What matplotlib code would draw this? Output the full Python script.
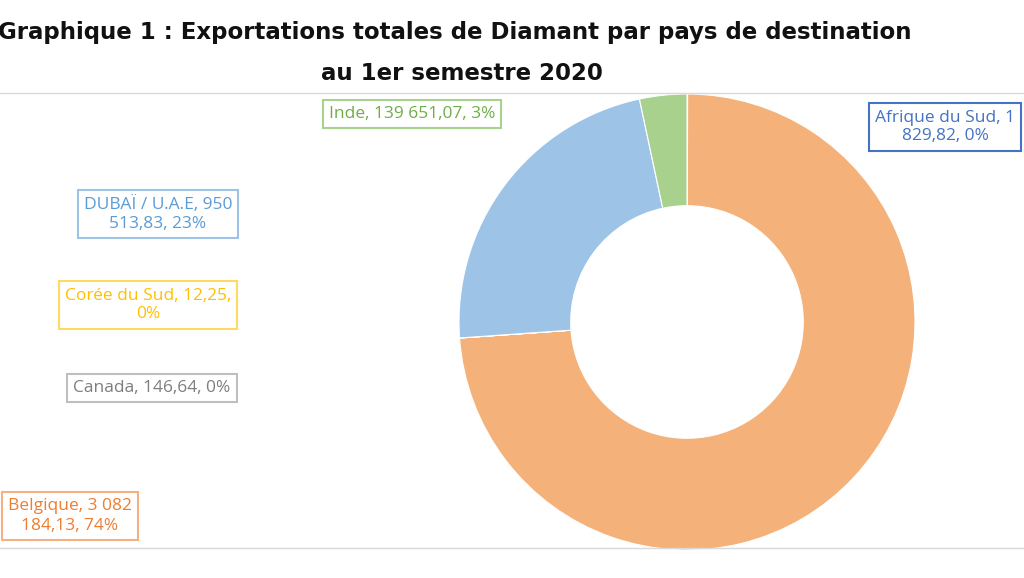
import matplotlib
matplotlib.use("Agg")
import matplotlib.pyplot as plt

countries = ["Afrique du Sud", "Belgique", "Canada", "Corée du Sud", "DUBAÏ / U.A.E", "Inde"]
values = [1829.82, 3082184.13, 146.64, 12.25, 950513.83, 139651.07]
label_texts = ["Afrique du Sud, 1\n829,82, 0%", "Belgique, 3 082\n184,13, 74%", "Canada, 146,64, 0%",
               "Corée du Sud, 12,25,\n0%", "DUBAÏ / U.A.E, 950\n513,83, 23%", "Inde, 139 651,07, 3%"]
colors = ["#5B7FC4", "#F4B17A", "#A5A5A5", "#FFC000", "#9DC3E6", "#A9D18E"]
text_colors = ["#4472C4", "#ED7D31", "#7F7F7F", "#FFC000", "#5B9BD5", "#70AD47"]
edge_colors = ["#4472C4", "#F4B183", "#BFBFBF", "#FFD966", "#9DC3E6", "#A9D18E"]
label_pos = [(945, 127), (70, 516), (152, 388), (148, 305), (158, 214), (412, 114)]

W, H = 1024, 578
fig = plt.figure(figsize=(W/100, H/100), dpi=100)

cx, cy, r = 687, 322, 228
ax = fig.add_axes([(cx-r)/W, 1-(cy+r)/H, 2*r/W, 2*r/H])
ax.pie(values, colors=colors, startangle=90, counterclock=False, radius=1,
       wedgeprops=dict(width=0.49, edgecolor="white", linewidth=0.8))
ax.set_xlim(-1, 1)
ax.set_ylim(-1, 1)
ax.set_aspect("equal")
ax.axis("off")

fig.text(455/W, 1-33/H, "Graphique 1 : Exportations totales de Diamant par pays de destination",
         ha="center", va="center", fontsize=16.5, fontweight="bold", color="#111111")
fig.text(462/W, 1-73/H, "au 1er semestre 2020", ha="center", va="center",
         fontsize=16.5, fontweight="bold", color="#111111")

for t, (x, y), tc, ec in zip(label_texts, label_pos, text_colors, edge_colors):
    fig.text(x/W, 1-y/H, t, ha="center", va="center", fontsize=12.5, color=tc,
             family="Open Sans", linespacing=1.25,
             bbox=dict(boxstyle="square,pad=0.35", fc="white", ec=ec, lw=1.5))

fig.add_artist(plt.Line2D([0, 1], [1-93/H, 1-93/H], color="#D9D9D9", lw=1))
fig.add_artist(plt.Line2D([0, 1], [1-548/H, 1-548/H], color="#D9D9D9", lw=1))

fig.savefig("out.png", dpi=100)
